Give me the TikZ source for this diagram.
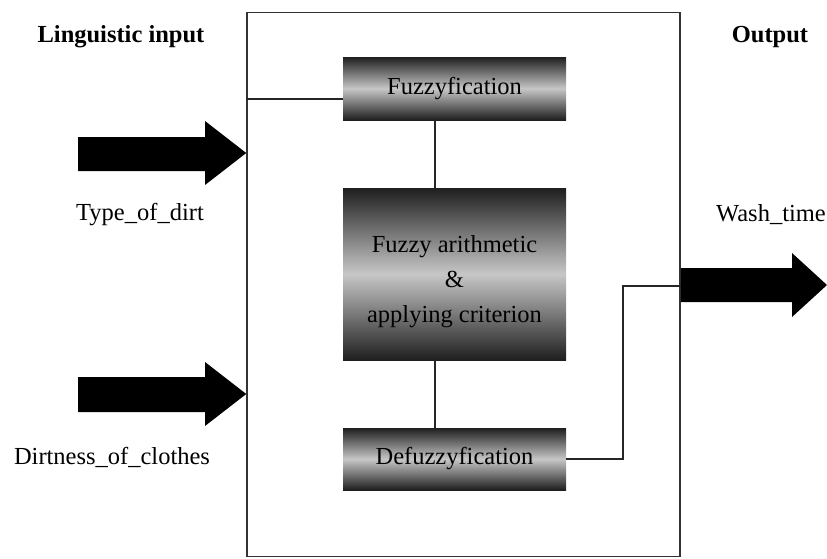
\documentclass[tikz,border=0pt]{standalone}
\usepackage{fontspec}
\setmainfont{Liberation Serif}[Ligatures=TeX]
\newfontfamily\labelfont{Liberation Serif}
\begin{document}
\begin{tikzpicture}[x=1pt,y=-1pt,
  every node/.style={font=\labelfont\fontsize{24.5}{35}\selectfont, inner sep=0pt},
  shadedbox/.style={shade, top color=black!88, bottom color=black!88,
    middle color=black!22, minimum width=223pt},
  link/.style={draw=black!85, line width=1.3pt},
  blockarrow/.style={fill=black, draw=none},
  caption/.style={font=\labelfont\fontsize{24.5}{30}\selectfont\bfseries}]
  \useasboundingbox (0,0) rectangle (827,558);

  % outer system frame
  \node[draw=black!80, line width=1.5pt, minimum width=433pt, minimum height=544pt]
    (frame) at (463.5,284.5) {};

  % processing stages
  \node[shadedbox, minimum height=63pt] (fuz) at (454.5,88.5) {Fuzzyfication};
  \node[shadedbox, minimum height=172pt] (arith) at (454.5,274) {};
  \node[align=center] (arithtext) at ([yshift=-8pt]arith.center)
    {Fuzzy arithmetic\\\&\\applying criterion};
  \node[shadedbox, minimum height=62pt] (defuz) at (454.5,459) {Defuzzyfication};

  % headings
  \node[caption] (lin) at (121,37) {Linguistic input};
  \node[caption] (out) at (770,37) {Output};

  % variable labels
  \node (dirt) at (140,215) {Type\_of\_dirt};
  \node (clothes) at (112,457) {Dirtness\_of\_clothes};
  \node (wash) at (771,215) {Wash\_time};

  % internal links
  \coordinate (inlink) at (frame.west |- 0,99);
  \draw[link] (inlink) -- (inlink -| fuz.west);
  \draw[link] (fuz.south -| 435,0) -- (arith.north -| 435,0);
  \draw[link] (arith.south -| 435,0) -- (defuz.north -| 435,0);
  \coordinate (outlink) at (frame.east |- 0,286);
  \draw[link] (defuz.east) -- (623,459) -- (623,286) -- (outlink);

  % input block arrows
  \coordinate (tipA) at (frame.west |- 0,153);
  \fill[blockarrow] (78,137) -- (205,137) -- (205,121) -- (tipA) -- (205,185)
    -- (205,171) -- (78,171) -- cycle;
  \coordinate (tipB) at (frame.west |- 0,394);
  \fill[blockarrow] (78,377) -- (205,377) -- (205,362) -- (tipB) -- (205,426)
    -- (205,412) -- (78,412) -- cycle;

  % output block arrow
  \coordinate (baseC) at (frame.east |- 0,268);
  \fill[blockarrow] (baseC) -- (792,268) -- (792,253) -- (827,285) -- (792,317)
    -- (792,302) -- (frame.east |- 0,302) -- cycle;
\end{tikzpicture}
\end{document}
